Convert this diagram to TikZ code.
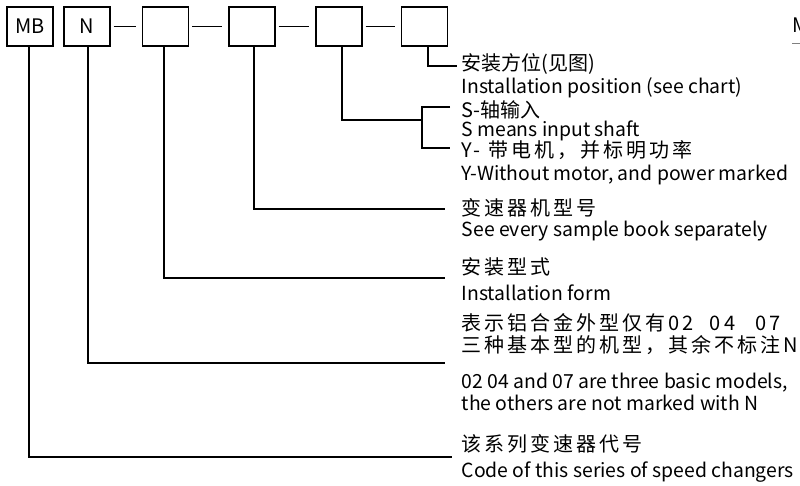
\documentclass[tikz,border=0pt]{standalone}
\usepackage{fontspec}
\setmainfont{Noto Sans CJK SC}
\newfontfamily\cjksp[LetterSpace=15]{Noto Sans CJK SC}
\begin{document}
\begin{tikzpicture}[x=1pt,y=-1pt,line width=1.4pt,
  box/.style={draw,minimum width=46pt,minimum height=39pt,inner sep=0pt,font=\fontsize{20}{22}\selectfont},
  lbl/.style={anchor=base west,inner sep=0pt,font=\fontsize{19.4}{24}\selectfont},
  lblsp/.style={lbl,font=\fontsize{20}{24}\cjksp},
  dashc/.style={shorten <=3pt,shorten >=6pt}]
\useasboundingbox (0,0) rectangle (800,486);
% boxes
\node[box] (b1) at (30,26.5) {MB};
\node[box] (b2) at (87,26.5) {N};
\node[box] (b3) at (165.5,26.5) {};
\node[box] (b4) at (252,26.5) {};
\node[box] (b5) at (339,26.5) {};
\node[box] (b6) at (424.5,26.5) {};
\draw[dashc] (b2.east) -- (b3.west);
\draw[dashc] (b3.east) -- (b4.west);
\draw[dashc] (b4.east) -- (b5.west);
\draw[dashc] (b5.east) -- (b6.west);
% end coordinates
\coordinate (e6) at (457,66);
\coordinate (e5) at (422,120);
\coordinate (k1) at (450,107);
\coordinate (k2) at (450,148);
\coordinate (e4) at (445,209);
\coordinate (e3) at (445,278);
\coordinate (e2) at (445,363);
\coordinate (e1) at (452,457);
% connectors
\draw ([xshift=3.5pt]b6.south) |- (e6);
\draw ([xshift=3pt]b5.south) |- (e5);
\draw (k1) -| (e5) |- (k2);
\draw ([xshift=2pt]b4.south) |- (e4);
\draw ([xshift=-1.5pt]b3.south) |- (e3);
\draw ([xshift=1pt]b2.south) |- (e2);
\draw ([xshift=-1pt]b1.south) |- (e1);
% labels
\node[lbl,font=\fontsize{20}{24}\selectfont] (t6a) at (461,71) {安装方位(见图)};
\node[lbl] (t6b) at (461,94) {Installation position (see chart)};
\node[lbl,font=\fontsize{20}{24}\selectfont] (t5a) at (461,118) {S-轴输入};
\node[lbl] (t5b) at (461,137) {S means input shaft};
\node[lblsp] (t5c) at (461,158) {Y- 带电机，并标明功率};
\node[lbl] (t5d) at (461,181) {Y-Without motor, and power marked};
\node[lblsp] (t4a) at (461,216) {变速器机型号};
\node[lbl] (t4b) at (461,237) {See every sample book separately};
\node[lblsp] (t3a) at (461,275) {安装型式};
\node[lbl] (t3b) at (461,300) {Installation form};
\node[lblsp] (t2a) at (461,330) {表示铝合金外型仅有02\hspace{16pt}04\hspace{20pt}07};
\node[lblsp] (t2b) at (461,352) {三种基本型的机型，其余不标注N};
\node[lbl] (t2c) at (461,388) {02 04 and 07 are three basic models,};
\node[lbl] (t2d) at (461,410) {the others are not marked with N};
\node[lblsp] (t1a) at (461,451) {该系列变速器代号};
\node[lbl] (t1b) at (461,477) {Code of this series of speed changers};
% clipped fragment at the right edge
\node[lbl,font=\fontsize{20}{24}\selectfont] (frag) at (792,33) {M};
\draw[line width=0.8pt,gray] (frag.south west) ++(0,10) coordinate (f1) -- ++(10,0);
\end{tikzpicture}
\end{document}
